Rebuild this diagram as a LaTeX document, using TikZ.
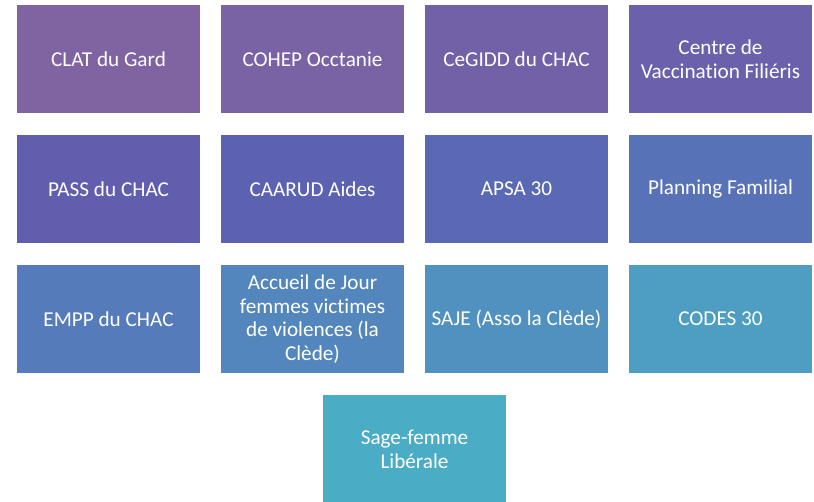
\documentclass[tikz,border=0pt]{standalone}
\usepackage{fontspec}
\setmainfont{Carlito}[Ligatures={NoCommon}]
\usepackage{xcolor}
\usepackage{tikz}
\usetikzlibrary{positioning}

\definecolor{grad0}{HTML}{8064A2}
\definecolor{grad1}{HTML}{7A63A5}
\definecolor{grad2}{HTML}{7361A8}
\definecolor{grad3}{HTML}{6B60AB}
\definecolor{grad4}{HTML}{615EAE}
\definecolor{grad5}{HTML}{5C62B1}
\definecolor{grad6}{HTML}{5A69B4}
\definecolor{grad7}{HTML}{5872B7}
\definecolor{grad8}{HTML}{567BBA}
\definecolor{grad9}{HTML}{5386BD}
\definecolor{grad10}{HTML}{5191C0}
\definecolor{grad11}{HTML}{4E9EC3}
\definecolor{grad12}{HTML}{4BACC6}

\tikzset{
    partner/.style={minimum width=183pt, minimum height=108pt, inner sep=0pt,
        text=white, align=center,
        font=\fontsize{21.2}{23.7}\selectfont}
}

\begin{document}
\begin{tikzpicture}[x=1pt, y=1pt]
    \useasboundingbox (0,0) rectangle (814,501);

    % First row
    \node[partner, fill=grad0] (clat) at (108.5,442) {CLAT du Gard};
    \node[partner, fill=grad1] (cohep) at (312.5,442) {COHEP Occtanie};
    \node[partner, fill=grad2] (cegidd) at (516.5,442) {CeGIDD du CHAC};
    \node[partner, fill=grad3] (vaccin) at (720.5,442) {Centre de\\Vaccination Filiéris};

    % Second row
    \node[partner, fill=grad4] (pass) at (108.5,312) {PASS du CHAC};
    \node[partner, fill=grad5] (caarud) at (312.5,312) {CAARUD Aides};
    \node[partner, fill=grad6] (apsa) at (516.5,312) {APSA 30};
    \node[partner, fill=grad7] (planning) at (720.5,312) {Planning Familial};

    % Third row
    \node[partner, fill=grad8] (empp) at (108.5,182) {EMPP du CHAC};
    \node[partner, fill=grad9] (accueil) at (312.5,182) {Accueil de Jour\\femmes victimes\\de violences (la\\Clède)};
    \node[partner, fill=grad10] (saje) at (516.5,182) {SAJE (Asso la Clède)};
    \node[partner, fill=grad11] (codes) at (720.5,182) {CODES 30};

    % Last row
    \node[partner, fill=grad12] (sagefemme) at (414.5,52) {Sage-femme\\Libérale};
\end{tikzpicture}
\end{document}
